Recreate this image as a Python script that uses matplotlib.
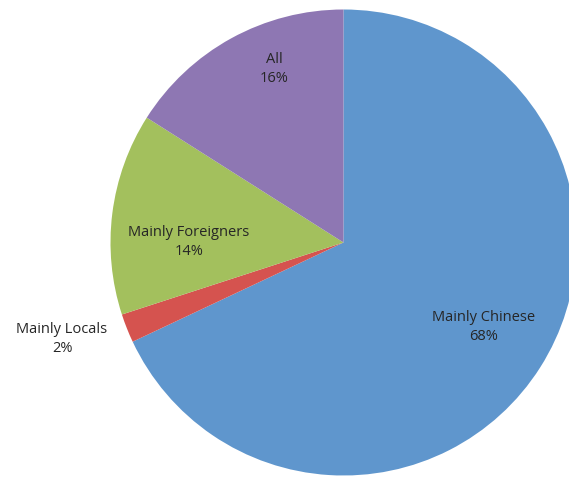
import matplotlib.pyplot as plt

# customer mix
categories = ['Mainly Chinese', 'Mainly Locals', 'Mainly Foreigners', 'All']
shares = [68, 2, 14, 16]
colors = ['#5f96cd', '#d5534f', '#a3c05d', '#8e77b3']

# label anchor points (pixels, from top-left)
label_xy = [(484, 327), (62, 339), (189, 242), (274, 69)]

W, H = 569, 481
fig = plt.figure(figsize=(W / 100, H / 100), dpi=100)
ax = fig.add_axes([0, 0, 1, 1])

cx, cy, r = 343.5, H - 243.5, 233
ax.pie(shares, colors=colors, startangle=90, counterclock=False,
       center=(cx, cy), radius=r, frame=True,
       wedgeprops=dict(linewidth=0, antialiased=True))
ax.set_xlim(0, W)
ax.set_ylim(0, H)
ax.set_aspect('equal')
ax.axis('off')

for name, val, (x, y) in zip(categories, shares, label_xy):
    ax.text(x, H - y, f'{name}\n{val}%', ha='center', va='center',
            fontsize=10.5, family='Open Sans', color='#262626',
            linespacing=1.4)

fig.savefig('out.png', dpi=100)
